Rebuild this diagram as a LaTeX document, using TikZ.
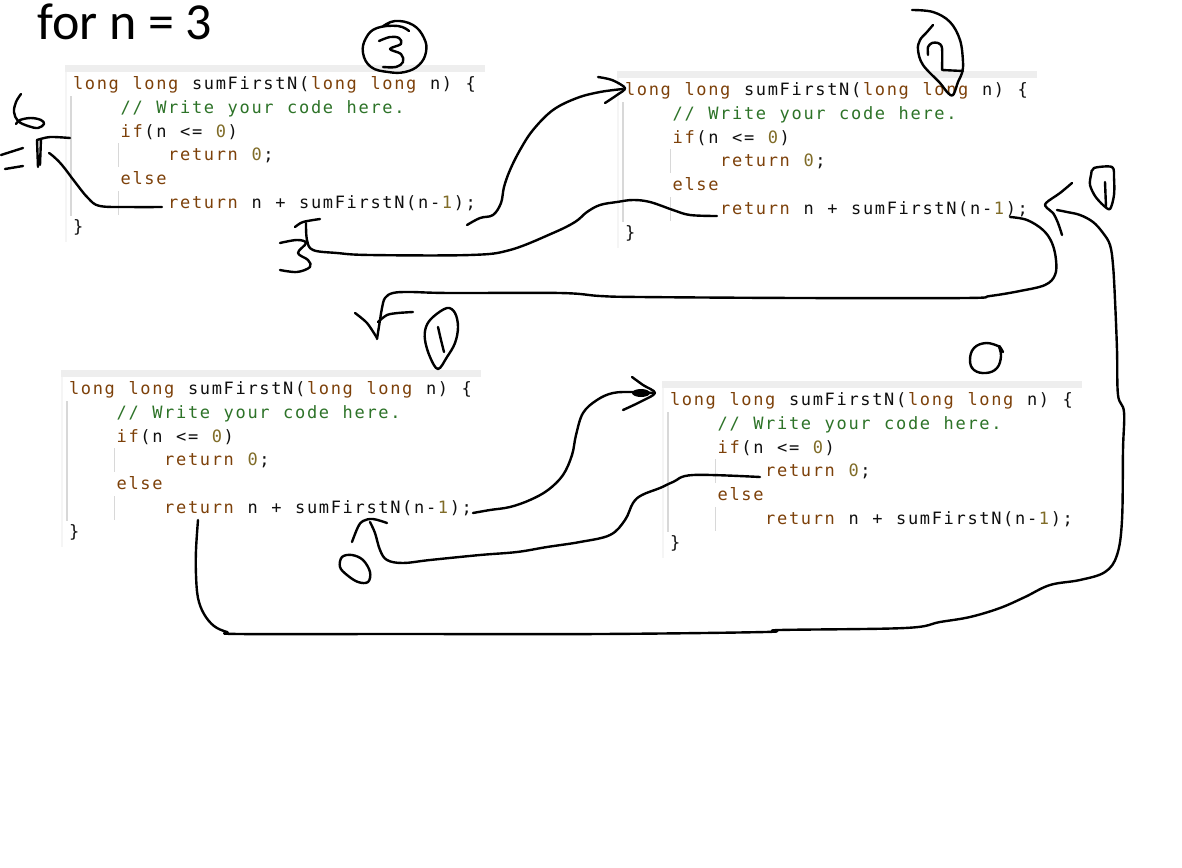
\documentclass[tikz,border=0pt]{standalone}
\usepackage{fontspec}
\newfontfamily\codefont{DejaVu Sans Mono}
\newfontfamily\titlefont{Carlito}
\definecolor{kwc}{RGB}{125,65,10}
\definecolor{nmc}{RGB}{128,108,40}
\definecolor{cmc}{RGB}{45,115,40}
\definecolor{txc}{RGB}{15,15,15}
\definecolor{barc}{RGB}{238,238,238}
\definecolor{guidec}{RGB}{216,216,216}
\newlength\cw \setlength\cw{11.9pt}
\def\chloop#1{\ifx#1\relax\else\makebox[\cw][c]{#1}\expandafter\chloop\fi}
\newcommand\sg[2]{{\color{#1}\chloop#2\relax}}
\tikzset{
  codeline/.style={anchor=base west, inner sep=0pt, text=txc, font=\codefont\fontsize{17}{17}\selectfont},
  hand/.style={line width=2.4pt, line cap=round, line join=round, black},
}
\newcommand\codeblock[3]{%
\begin{scope}[shift={(#2,#3)}]
  \fill[barc] (-7,-19) rectangle (413,-12);
  \fill[barc!60] (-7,-12) rectangle (-5,158);
  \draw[guidec,line width=1.3pt] (-1,12) -- (-1,132);
  \draw[guidec,line width=1.3pt] (46.6,59.4) -- (46.6,83.4);
  \draw[guidec,line width=1.3pt] (46.6,107) -- (46.6,131);
  \node[codeline] (#1l1) at (0,5.5) {\sg{kwc}{long~long}\sg{txc}{~sumFirstN(}\sg{kwc}{long~long}\sg{txc}{~n)~\{}};
  \node[codeline] (#1l2) at (47.6,29.3) {\sg{cmc}{//~Write~your~code~here.}};
  \node[codeline] (#1l3) at (47.6,53.1) {\sg{kwc}{if}\sg{txc}{(n~<=~}\sg{nmc}{0}\sg{txc}{)}};
  \node[codeline] (#1l4) at (95.2,76.9) {\sg{kwc}{return}\sg{txc}{~}\sg{nmc}{0}\sg{txc}{;}};
  \node[codeline] (#1l5) at (47.6,100.7) {\sg{kwc}{else}};
  \node[codeline] (#1l6) at (95.2,124.5) {\sg{kwc}{return}\sg{txc}{~n~+~sumFirstN(n-}\sg{nmc}{1}\sg{txc}{);}};
  \node[codeline] (#1l7) at (0,148.3) {\sg{txc}{\}}};
\end{scope}}
\begin{document}
\begin{tikzpicture}[x=1pt,y=-1pt]
\useasboundingbox (0,0) rectangle (1182,867);
\fill[white] (0,0) rectangle (1182,867);

\node[anchor=base west, inner sep=0pt, font=\titlefont\fontsize{52}{52}\selectfont] (title) at (37,40) {for n = 3};

\codeblock{a}{72}{84}
\codeblock{b}{624}{90}
\codeblock{c}{68}{389}
\codeblock{d}{669}{400}

% circled 3
\draw[hand] plot[smooth, tension=0.7] coordinates {(382,27) (395,21) (413,25) (424,38) (426,52) (419,65) (405,72) (388,72) (371,67) (363,53) (366,38) (377,28) (398,26) (409,31)};
\draw[hand] plot[smooth, tension=0.6] coordinates {(379,41) (390,37) (399,38) (401,44) (390,49) (401,54) (403,62) (396,67) (383,67)};

% circled 2
\draw[hand] plot[smooth, tension=0.6] coordinates {(912,10) (933,12) (950,22) (960,40) (963,62) (962,73) (958,82) (953,95) (947,92) (940,83) (923,65) (918,50) (920,40) (927,32) (933,25)};
\draw[hand] plot[smooth, tension=0.5] coordinates {(928,55) (928,47) (932,43) (938,43) (942,48) (942,70)} -- (963,71);

% 6 = T at left
\draw[hand] plot[smooth, tension=0.6] coordinates {(21,94) (16,102) (14,112) (18,121) (28,126) (38,128) (44,124) (41,120) (31,118) (20,120) (16,124)};
\draw[hand] (1,155) -- (23,148);
\draw[hand] (5,169) -- (23,166);
\draw[hand] (37,140) -- (38,167);
\draw[hand] (41,139) -- (40,165);
\draw[hand] plot[smooth] coordinates {(37,140) (50,137) (70,138)};
\draw[hand] plot[smooth, tension=0.6] coordinates {(162,207) (130,207) (100,206) (88,198) (75,182) (62,165) (53,156) (49,153)};

% call a -> b
\draw[hand] plot[smooth, tension=0.6] coordinates {(467,225) (480,218) (493,215) (501,203) (504,187) (510,170) (520,150) (533,130) (553,110) (577,98) (600,92) (623,89)};
\draw[hand] plot[smooth, tension=0.5] coordinates {(598,77) (612,80) (625,88) (617,95) (605,103)};

% return b -> a
\draw[hand] plot[smooth, tension=0.6] coordinates {(717,216) (690,215) (673,210) (650,202) (633,200) (617,202) (600,205) (587,212) (575,222) (553,233) (510,250) (470,255) (370,255) (337,253) (313,250) (307,240) (306,223)};
\draw[hand] plot[smooth] coordinates {(295,227) (303,222) (320,219)};
\draw[hand] plot[smooth, tension=0.6] coordinates {(280,243) (297,240) (306,243) (298,253) (308,260) (310,267) (297,272) (280,270)};

% call b -> c
\draw[hand] plot[smooth, tension=0.6] coordinates {(1010,217) (1027,220) (1043,230) (1052,243) (1056,260) (1055,275) (1045,285) (1020,291) (990,296) (965,298) (800,298) (640,297) (600,296) (560,293) (450,293) (410,292) (393,293) (385,298) (382,308) (380,320) (377,339)};
\draw[hand] plot[smooth] coordinates {(355,313) (367,323) (377,338)};
\draw[hand] plot[smooth] coordinates {(378,322) (387,315) (398,313) (413,312)};
% circled 1
\draw[hand] plot[smooth cycle, tension=0.6] coordinates {(438,369) (430,357) (425,340) (426,327) (433,317) (447,308) (455,313) (458,327) (455,343) (447,357)};
\draw[hand] plot[smooth] coordinates {(438,327) (441,340) (444,352)};

% call c -> d
\draw[hand] plot[smooth, tension=0.6] coordinates {(473,513) (490,510) (510,507) (530,500) (548,490) (563,475) (572,455) (576,435) (583,413) (597,400) (613,393) (633,392) (653,393)};
\draw[hand] plot[smooth, tension=0.5] coordinates {(632,377) (643,385) (655,393) (640,402) (623,410)};
\fill[black] (641,393) ellipse [x radius=9, y radius=4];

% circled 0 above d
\draw[hand] plot[smooth, tension=0.7] coordinates {(998,346) (986,343) (974,348) (970,360) (974,370) (986,373) (997,368) (1001,356) (999,346) (1003,352)};

% return d -> c
\draw[hand] plot[smooth, tension=0.6] coordinates {(760,477) (693,475) (673,482) (660,488) (642,495) (633,503) (625,520) (610,535) (580,542) (547,547) (517,552) (480,555) (430,560) (403,563) (387,560) (380,550) (375,533) (370,522)};
\draw[hand] plot[smooth, tension=0.6] coordinates {(352,542) (358,527) (363,521) (373,519) (387,523)};
\draw[hand] plot[smooth cycle, tension=0.6] coordinates {(342,557) (352,555) (363,560) (370,572) (368,582) (358,582) (347,575) (340,567)};

% circled 1 at right
\draw[hand] plot[smooth cycle, tension=0.5] coordinates {(1094,168) (1112,167) (1114,178) (1114,195) (1110,209) (1103,205) (1095,196) (1090,185) (1091,175)};
\draw[hand] (1105,182) -- (1106,207);

% return c -> b
\draw[hand] plot[smooth, tension=0.6] coordinates {(1057,210) (1067,212) (1080,215) (1093,222) (1103,233) (1110,245) (1113,265) (1115,300) (1117,350) (1118,395) (1124,412) (1123,450) (1122,520) (1117,555) (1105,572) (1080,580) (1050,585) (1025,597) (1000,608) (970,617) (940,622) (905,628) (780,630) (765,632) (600,634) (400,634) (240,634) (227,632) (214,626) (204,614) (198,598) (196,575) (196,550) (198,520)};
\draw[hand] plot[smooth, tension=0.6] coordinates {(1072,183) (1060,193) (1046,203) (1047,208) (1053,213) (1058,223) (1062,235)};
\end{tikzpicture}
\end{document}
